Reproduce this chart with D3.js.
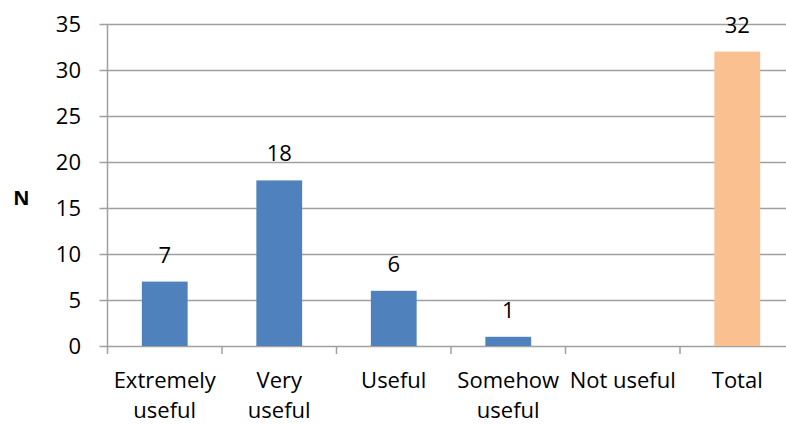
<!DOCTYPE html>
<html>
<head>
<meta charset="utf-8">
<script src="https://cdn.jsdelivr.net/npm/d3@7"></script>
<style>
    body { margin: 0; background: #fff; }
    text { font-family: "Open Sans", sans-serif; fill: #000; }
</style>
</head>
<body>
<div id="chart"></div>
<script>
const categories = ['Extremely useful', 'Very useful', 'Useful', 'Somehow useful', 'Not useful', 'Total'];
const labelLines = [['Extremely', 'useful'], ['Very', 'useful'], ['Useful'], ['Somehow', 'useful'], ['Not useful'], ['Total']];
const counts = [7, 18, 6, 1, 0, 32];
const yTicks = [0, 5, 10, 15, 20, 25, 30, 35];

const WIDTH = 786;
const HEIGHT = 426;
const PLOT_LEFT = 107.5, PLOT_RIGHT = 794.5, PLOT_TOP = 24, PLOT_BOTTOM = 346;
const FONT_SIZE = '22px';

const rows = categories.map((c, i) => ({ name: c, value: counts[i], lines: labelLines[i] }));

const svg = d3.select('#chart')
    .append('svg')
        .attr('width', WIDTH)
        .attr('height', HEIGHT);

const x = d3.scaleBand()
    .domain(categories)
    .range([PLOT_LEFT, PLOT_RIGHT])
    .paddingInner(0.6)
    .paddingOuter(0.3);

const y = d3.scaleLinear()
    .domain([0, 35])
    .range([PLOT_BOTTOM, PLOT_TOP]);

// gridlines + y labels
svg.selectAll('line.grid')
    .data(yTicks)
    .enter()
    .append('line')
        .attr('class', 'grid')
        .attr('x1', PLOT_LEFT - 8)
        .attr('x2', WIDTH)
        .attr('y1', d => Math.round(y(d)) + 0.5)
        .attr('y2', d => Math.round(y(d)) + 0.5)
        .attr('stroke', '#a0a0a0')
        .attr('stroke-width', 1.5);

svg.selectAll('text.ytick')
    .data(yTicks)
    .enter()
    .append('text')
        .attr('class', 'ytick')
        .attr('x', 81)
        .attr('y', d => y(d) + 8)
        .attr('text-anchor', 'end')
        .style('font-size', FONT_SIZE)
        .text(d => d);

// y axis line
svg.append('line')
    .attr('x1', PLOT_LEFT).attr('x2', PLOT_LEFT)
    .attr('y1', PLOT_TOP).attr('y2', PLOT_BOTTOM + 8)
    .attr('stroke', '#a0a0a0')
    .attr('stroke-width', 1.5);

// category ticks at band edges
const bandEdges = d3.range(1, categories.length + 1).map(i => PLOT_LEFT + i * x.step());
svg.selectAll('line.xtick')
    .data(bandEdges)
    .enter()
    .append('line')
        .attr('class', 'xtick')
        .attr('x1', d => d).attr('x2', d => d)
        .attr('y1', PLOT_BOTTOM).attr('y2', PLOT_BOTTOM + 8)
        .attr('stroke', '#a0a0a0')
        .attr('stroke-width', 1.5);

// bars
svg.selectAll('rect.bar')
    .data(rows)
    .enter()
    .append('rect')
        .attr('class', 'bar')
        .attr('x', d => x(d.name))
        .attr('y', d => y(d.value))
        .attr('width', x.bandwidth())
        .attr('height', d => PLOT_BOTTOM - y(d.value))
        .attr('fill', d => d.name === 'Total' ? '#fac090' : '#4f81bd');

// value labels
svg.selectAll('text.val')
    .data(rows.filter(d => d.value > 0))
    .enter()
    .append('text')
        .attr('class', 'val')
        .attr('x', d => x(d.name) + x.bandwidth() / 2)
        .attr('y', d => y(d.value) - 19)
        .attr('text-anchor', 'middle')
        .style('font-size', FONT_SIZE)
        .text(d => d.value);

// category labels
const catG = svg.selectAll('g.cat')
    .data(rows)
    .enter()
    .append('g')
        .attr('class', 'cat')
        .attr('transform', d => `translate(${x(d.name) + x.bandwidth() / 2},388)`);

catG.selectAll('text')
    .data(d => d.lines)
    .enter()
    .append('text')
        .attr('y', (d, j) => j * 30)
        .attr('text-anchor', 'middle')
        .style('font-size', FONT_SIZE)
        .text(d => d);

// axis title
svg.append('text')
    .attr('x', 21.5)
    .attr('y', 205)
    .attr('text-anchor', 'middle')
    .style('font-size', '20px')
    .style('font-weight', 'bold')
    .text('N');
</script>
</body>
</html>
